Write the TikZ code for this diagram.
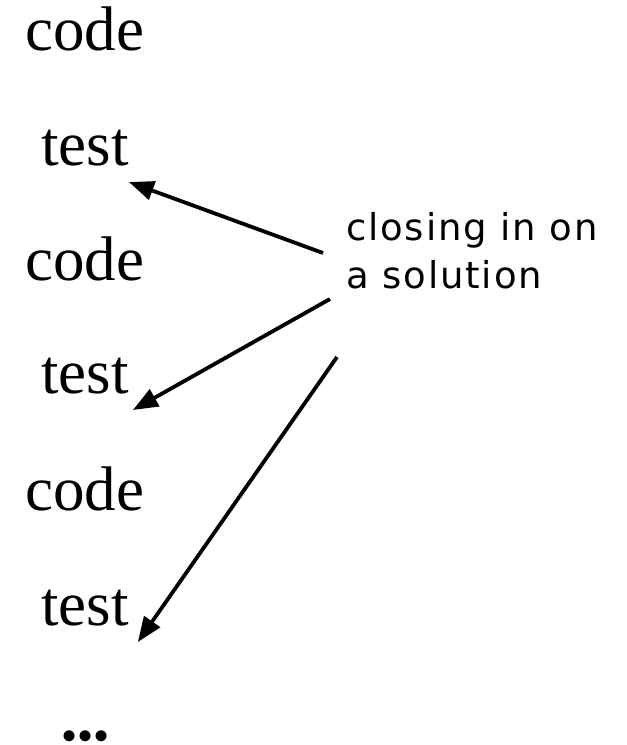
\documentclass[tikz,border=0pt]{standalone}
\usepackage{fontspec}
\setmainfont{Liberation Serif}
\newfontfamily\lblfont[LetterSpace=5]{DejaVu Sans}
\usetikzlibrary{arrows.meta}
\tikzset{
  word/.style={anchor=base west, inner sep=0pt, font=\fontsize{63}{72}\selectfont},
  note/.style={anchor=base west, inner sep=0pt, align=left,
    font=\lblfont\fontsize{37}{48}\selectfont},
  arr/.style={line width=3.8pt, -{Triangle[length=25pt,width=19pt]}}
}
\begin{document}
\begin{tikzpicture}[x=1pt,y=-1pt]
  \useasboundingbox (0,0) rectangle (627,745);
  % the code/test cycle
  \node[word] (c1) at (25,50)  {code};
  \node[word] (t1) at (41,165) {test};
  \node[word] (c2) at (25,280) {code};
  \node[word] (t2) at (41,393) {test};
  \node[word] (c3) at (25,510) {code};
  \node[word] (t3) at (41,625) {test};
  \node[anchor=base west, inner sep=0pt, font=\fontsize{46}{50}\selectfont]
    (dots) at (61,751) {•••};
  % the note and its pointers
  \node[note] (lbl) at (346,288) {closing in on\\a solution};
  \coordinate (s1) at (323,253);
  \coordinate (s2) at (330,299);
  \coordinate (s3) at (337,357);
  \draw[arr] (s1) -- ([shift={(0pt,-17pt)}]t1.base east);
  \draw[arr] (s2) -- ([shift={(4pt,-17pt)}]t2.base east);
  \draw[arr] (s3) -- ([shift={(9pt,-17pt)}]t3.base east);
\end{tikzpicture}
\end{document}
